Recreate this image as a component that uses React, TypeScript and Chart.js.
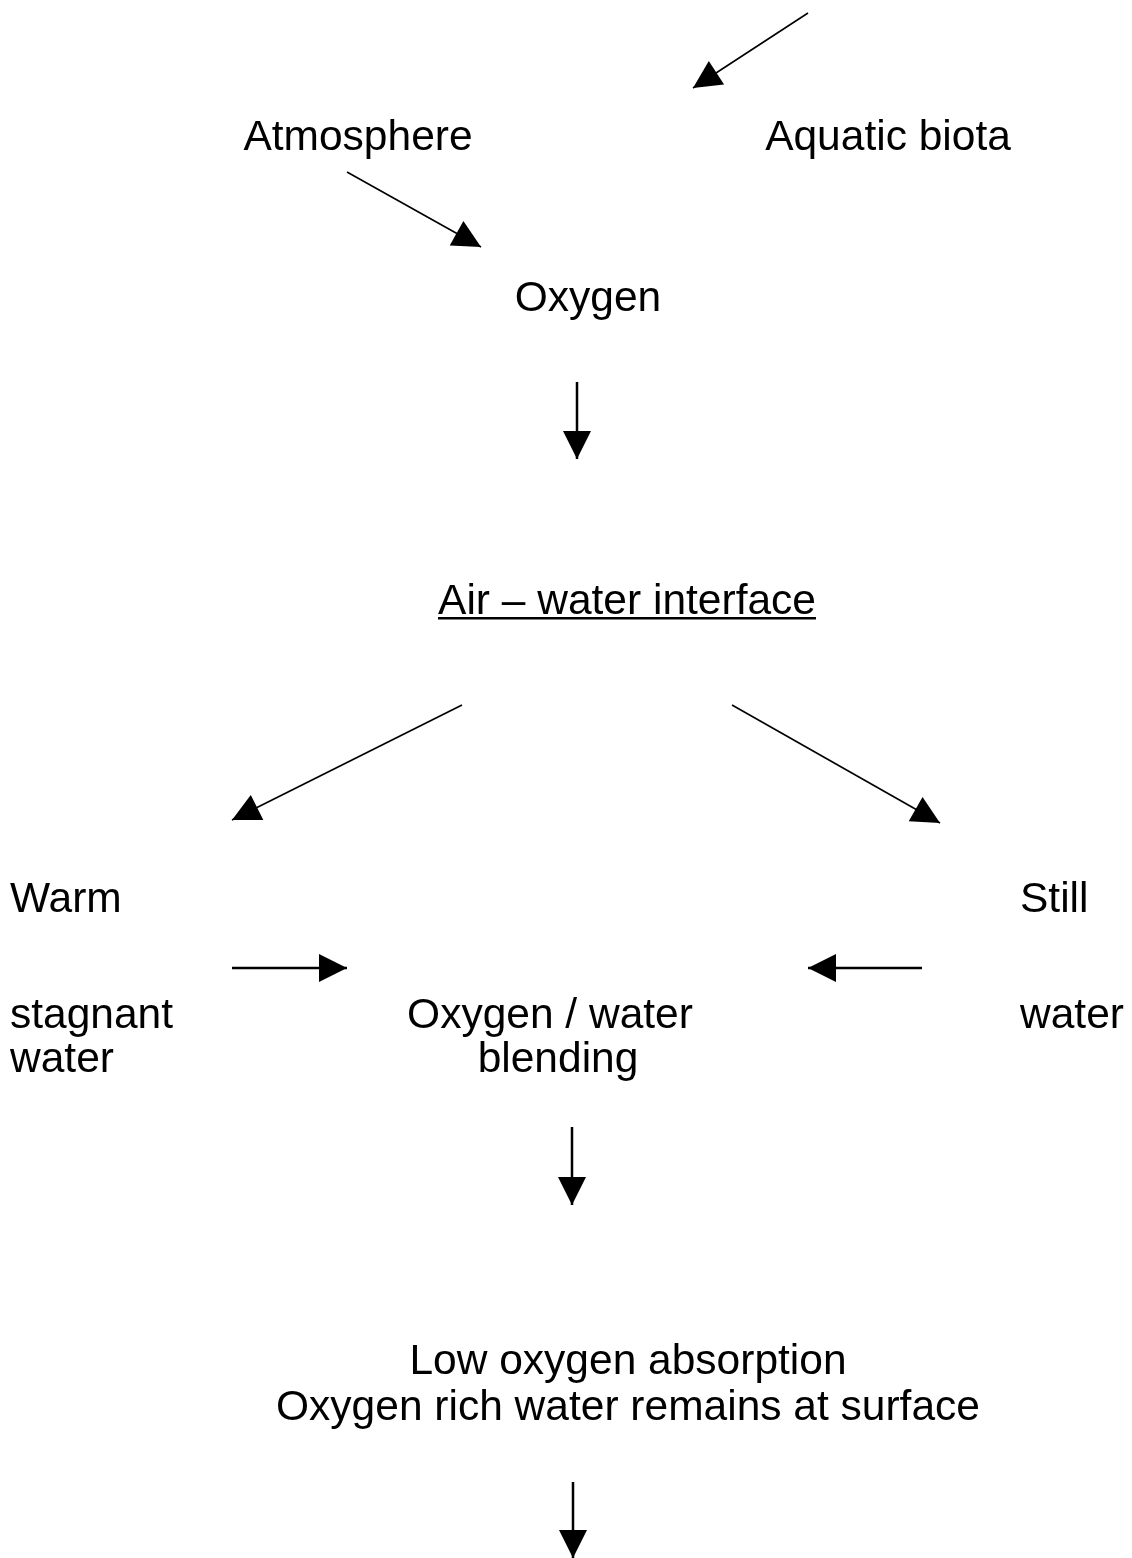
import React, { useEffect, useRef } from "react";
import { Chart, registerables } from "chart.js";

Chart.register(...registerables);

// Arrow segments (from -> to, tip at "to"), in diagram coordinates (y downwards)
const arrowFromX = [808, 347, 577, 462, 732, 232, 922, 572, 573];
const arrowFromY = [13, 172, 382, 705, 705, 968, 968, 1127, 1482];
const arrowToX = [693, 481, 577, 232, 940, 347, 808, 572, 573];
const arrowToY = [88, 247, 459, 820, 823, 968, 968, 1205, 1558];

// Text labels
const labelTexts = [
  "Atmosphere",
  "Aquatic biota",
  "Oxygen",
  "Air – water interface",
  "Warm",
  "Still",
  "stagnant",
  "water",
  "Oxygen / water",
  "blending",
  "water",
  "Low oxygen absorption",
  "Oxygen rich water remains at surface",
];
const labelX = [358, 888, 588, 627, 10, 1020, 10, 10, 550, 558, 1020, 628, 628];
const labelY = [150, 150, 311, 614, 912, 912, 1028, 1072, 1028, 1072, 1028, 1374, 1420];
const labelAlign = ["center", "center", "center", "center", "left", "left", "left", "left", "center", "center", "left", "center", "center"];
const labelUnderline = [false, false, false, true, false, false, false, false, false, false, false, false, false];

const W = 1132;
const H = 1558;

const diagramPlugin = {
  id: "diagram",
  afterDatasetsDraw(chart: any) {
    const ctx = chart.ctx;
    const xs = chart.scales.x;
    const ys = chart.scales.y;
    ctx.save();
    // arrowheads
    ctx.fillStyle = "#000";
    for (let i = 0; i < arrowFromX.length; i++) {
      const x0 = xs.getPixelForValue(arrowFromX[i]);
      const y0 = ys.getPixelForValue(arrowFromY[i]);
      const x1 = xs.getPixelForValue(arrowToX[i]);
      const y1 = ys.getPixelForValue(arrowToY[i]);
      const ang = Math.atan2(y1 - y0, x1 - x0);
      const len = 28;
      const hw = 14;
      const bx = x1 - Math.cos(ang) * len;
      const by = y1 - Math.sin(ang) * len;
      const px = -Math.sin(ang);
      const py = Math.cos(ang);
      ctx.beginPath();
      ctx.moveTo(x1, y1);
      ctx.lineTo(bx + px * hw, by + py * hw);
      ctx.lineTo(bx - px * hw, by - py * hw);
      ctx.closePath();
      ctx.fill();
    }
    // labels
    ctx.font = '42.5px "Liberation Sans", Arial, sans-serif';
    ctx.textBaseline = "alphabetic";
    for (let i = 0; i < labelTexts.length; i++) {
      const x = xs.getPixelForValue(labelX[i]);
      const y = ys.getPixelForValue(labelY[i]);
      ctx.textAlign = labelAlign[i] as CanvasTextAlign;
      ctx.fillText(labelTexts[i], x, y);
      if (labelUnderline[i]) {
        const w = ctx.measureText(labelTexts[i]).width;
        const left = labelAlign[i] === "center" ? x - w / 2 : x;
        ctx.fillRect(left, y + 3, w, 2.5);
      }
    }
    ctx.restore();
  },
};

export default function App() {
  const ref = useRef<HTMLCanvasElement | null>(null);

  useEffect(() => {
    document.body.style.margin = "0";
    document.body.style.background = "#fff";
    if (!ref.current) return;
    const datasets = arrowFromX.map((_, i) => ({
      label: "arrow" + i,
      data: [
        { x: arrowFromX[i], y: arrowFromY[i] },
        { x: arrowToX[i], y: arrowToY[i] },
      ],
      showLine: true,
      borderColor: "#000",
      borderWidth: arrowFromX[i] === arrowToX[i] || arrowFromY[i] === arrowToY[i] ? 2.5 : 1.6,
      pointRadius: 0,
      fill: false,
    }));
    const chart = new Chart(ref.current, {
      type: "scatter",
      data: { datasets },
      options: {
        animation: false,
        responsive: false,
        maintainAspectRatio: false,
        devicePixelRatio: 1,
        layout: { padding: 0 },
        plugins: {
          legend: { display: false },
          tooltip: { enabled: false },
          title: { display: false },
        },
        scales: {
          x: { type: "linear", min: 0, max: W, display: false },
          y: { type: "linear", min: 0, max: H, reverse: true, display: false },
        },
      },
      plugins: [diagramPlugin],
    });
    return () => chart.destroy();
  }, []);

  return (
    <div style={{ width: W, height: H, background: "#fff" }}>
      <canvas ref={ref} width={W} height={H} style={{ display: "block", width: W, height: H }} />
    </div>
  );
}
